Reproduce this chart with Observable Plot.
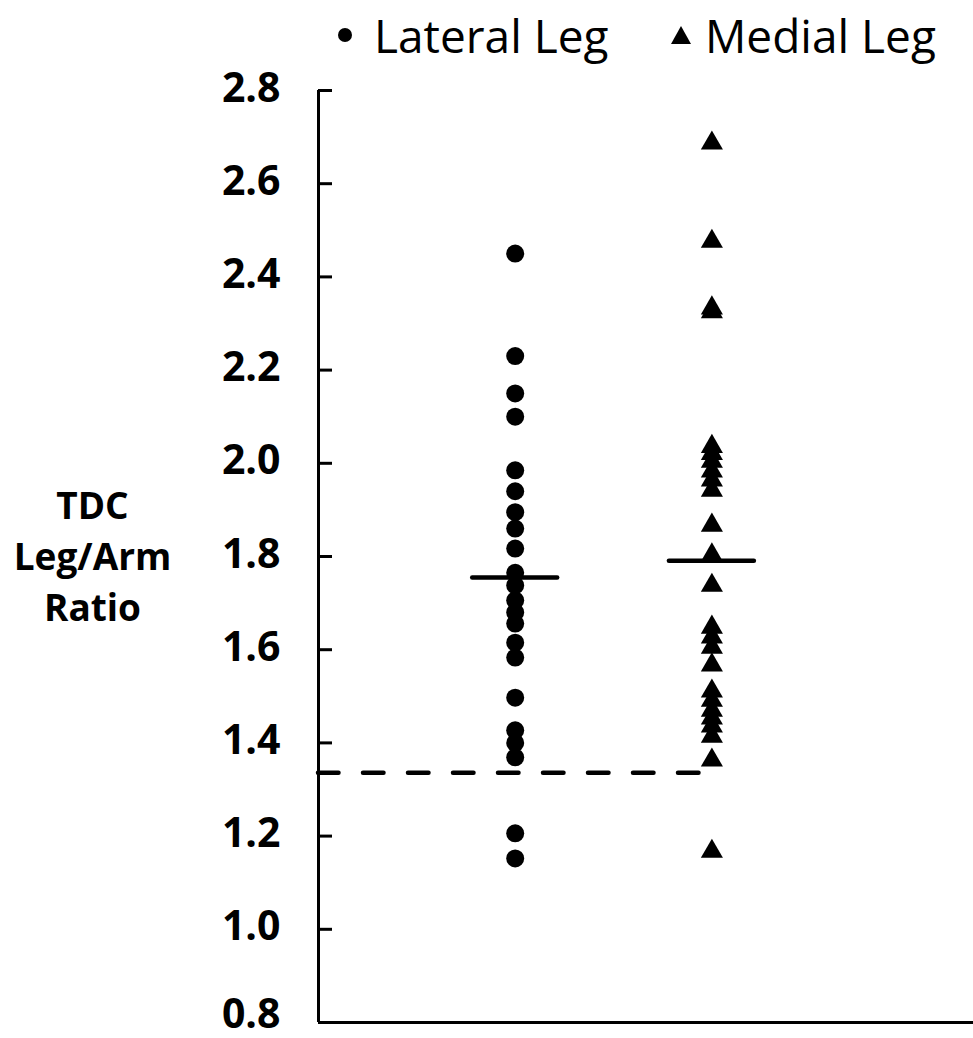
<!DOCTYPE html>
<html>
<head>
<meta charset="utf-8">
<script src="https://cdn.jsdelivr.net/npm/d3@7"></script>
<script src="https://cdn.jsdelivr.net/npm/@observablehq/plot@0.6"></script>
<style>
  body { margin: 0; background: #fff; font-family: "Open Sans", sans-serif; }
  #legend { position: relative; width: 973px; height: 70px; }
  .lg-item { position: absolute; top: 0; height: 70px; display: flex; align-items: center; }
  .lg-text { font-size: 46px; color: #000; line-height: 70px; white-space: nowrap; }
  #chart svg { display: block; }
</style>
</head>
<body>
<div id="legend"></div>
<div id="chart"></div>
<script>
// ---- data ----
const categories = ["Lateral Leg", "Medial Leg"];
const lateralValues = [2.45, 2.23, 2.15, 2.10, 1.985, 1.94, 1.895, 1.86, 1.817, 1.765, 1.738,
  1.706, 1.68, 1.656, 1.615, 1.583, 1.497, 1.427, 1.40, 1.369, 1.206, 1.152];
const medialValues = [2.687, 2.476, 2.333, 2.325, 2.036, 2.021, 2.004, 1.983, 1.964, 1.942,
  1.867, 1.803, 1.738, 1.648, 1.627, 1.605, 1.567, 1.511, 1.491, 1.47, 1.453, 1.436, 1.414,
  1.363, 1.167];
const meanValues = [1.755, 1.791];
const thresholdValue = 1.336;
const yTicks = [0.8, 1.0, 1.2, 1.4, 1.6, 1.8, 2.0, 2.2, 2.4, 2.6, 2.8];
const yTitle = ["TDC", "Leg/Arm", "Ratio"];

// ---- tables ----
const xPos = g => categories.indexOf(g) + 1;
const lateral = lateralValues.map(v => ({group: categories[0], value: v}));
const medial = medialValues.map(v => ({group: categories[1], value: v}));
const means = categories.map((g, i) => ({group: g, value: meanValues[i]}));
const yMin = yTicks[0];

// ---- legend ----
const legend = document.getElementById("legend");
legend.innerHTML = `
  <div class="lg-item" style="left:335px"><svg width="20" height="20"><circle cx="10" cy="10" r="7" fill="#000"/></svg></div>
  <div class="lg-item lg-text" style="left:374px">${categories[0]}</div>
  <div class="lg-item" style="left:670px"><svg width="22" height="22"><path d="M11,2 L21,20 L1,20 Z" fill="#000"/></svg></div>
  <div class="lg-item lg-text" style="left:705px">${categories[1]}</div>`;

// ---- chart ----
const labelStyle = {tickSize: 0, tickPadding: 38, tickFormat: d3.format(".1f"), label: null,
  fontSize: 41, fontWeight: "bold", fill: "#000"};
const chart = Plot.plot({
  width: 973,
  height: 968,
  marginTop: 20,
  marginBottom: 16,
  marginLeft: 318,
  marginRight: 0,
  x: {domain: [0, 3.33], axis: null},
  y: {domain: [yMin, yTicks[yTicks.length - 1]]},
  style: {fontFamily: "Open Sans", color: "#000", background: "#fff", overflow: "visible"},
  marks: [
    Plot.ruleX([0], {stroke: "#000", strokeWidth: 3}),
    Plot.ruleY([yMin], {stroke: "#000", strokeWidth: 3}),
    Plot.axisY({ticks: yTicks, tickSize: 14, dx: 14, tickFormat: () => "", label: null,
      stroke: "#000", strokeWidth: 3}),
    Plot.axisY({...labelStyle, ticks: yTicks.filter(t => t !== yMin), dy: -2}),
    Plot.axisY({...labelStyle, ticks: [yMin], dy: -8}),
    Plot.ruleY([thresholdValue], {x1: 0, x2: xPos(categories[1]) - 0.06, stroke: "#000",
      strokeWidth: 4.5, strokeDasharray: "20.5,24.5", strokeLinecap: "round"}),
    Plot.dot(lateral, {x: d => xPos(d.group), y: "value", r: 9, fill: "#000", stroke: "none"}),
    Plot.dot(medial, {x: d => xPos(d.group), y: "value", r: 8.2, symbol: d3.symbolTriangle,
      fill: "#000", stroke: "none"}),
    Plot.ruleY(means, {x1: d => xPos(d.group) - 0.216, x2: d => xPos(d.group) + 0.216, y: "value",
      stroke: "#000", strokeWidth: 4.5, strokeLinecap: "round"}),
    Plot.text([yTitle.join("\n")], {frameAnchor: "left", dx: -226, dy: -3, fontSize: 37,
      fontWeight: "bold", lineHeight: 1.38, textAnchor: "middle", fill: "#000"})
  ]
});
document.getElementById("chart").appendChild(chart);
</script>
</body>
</html>
